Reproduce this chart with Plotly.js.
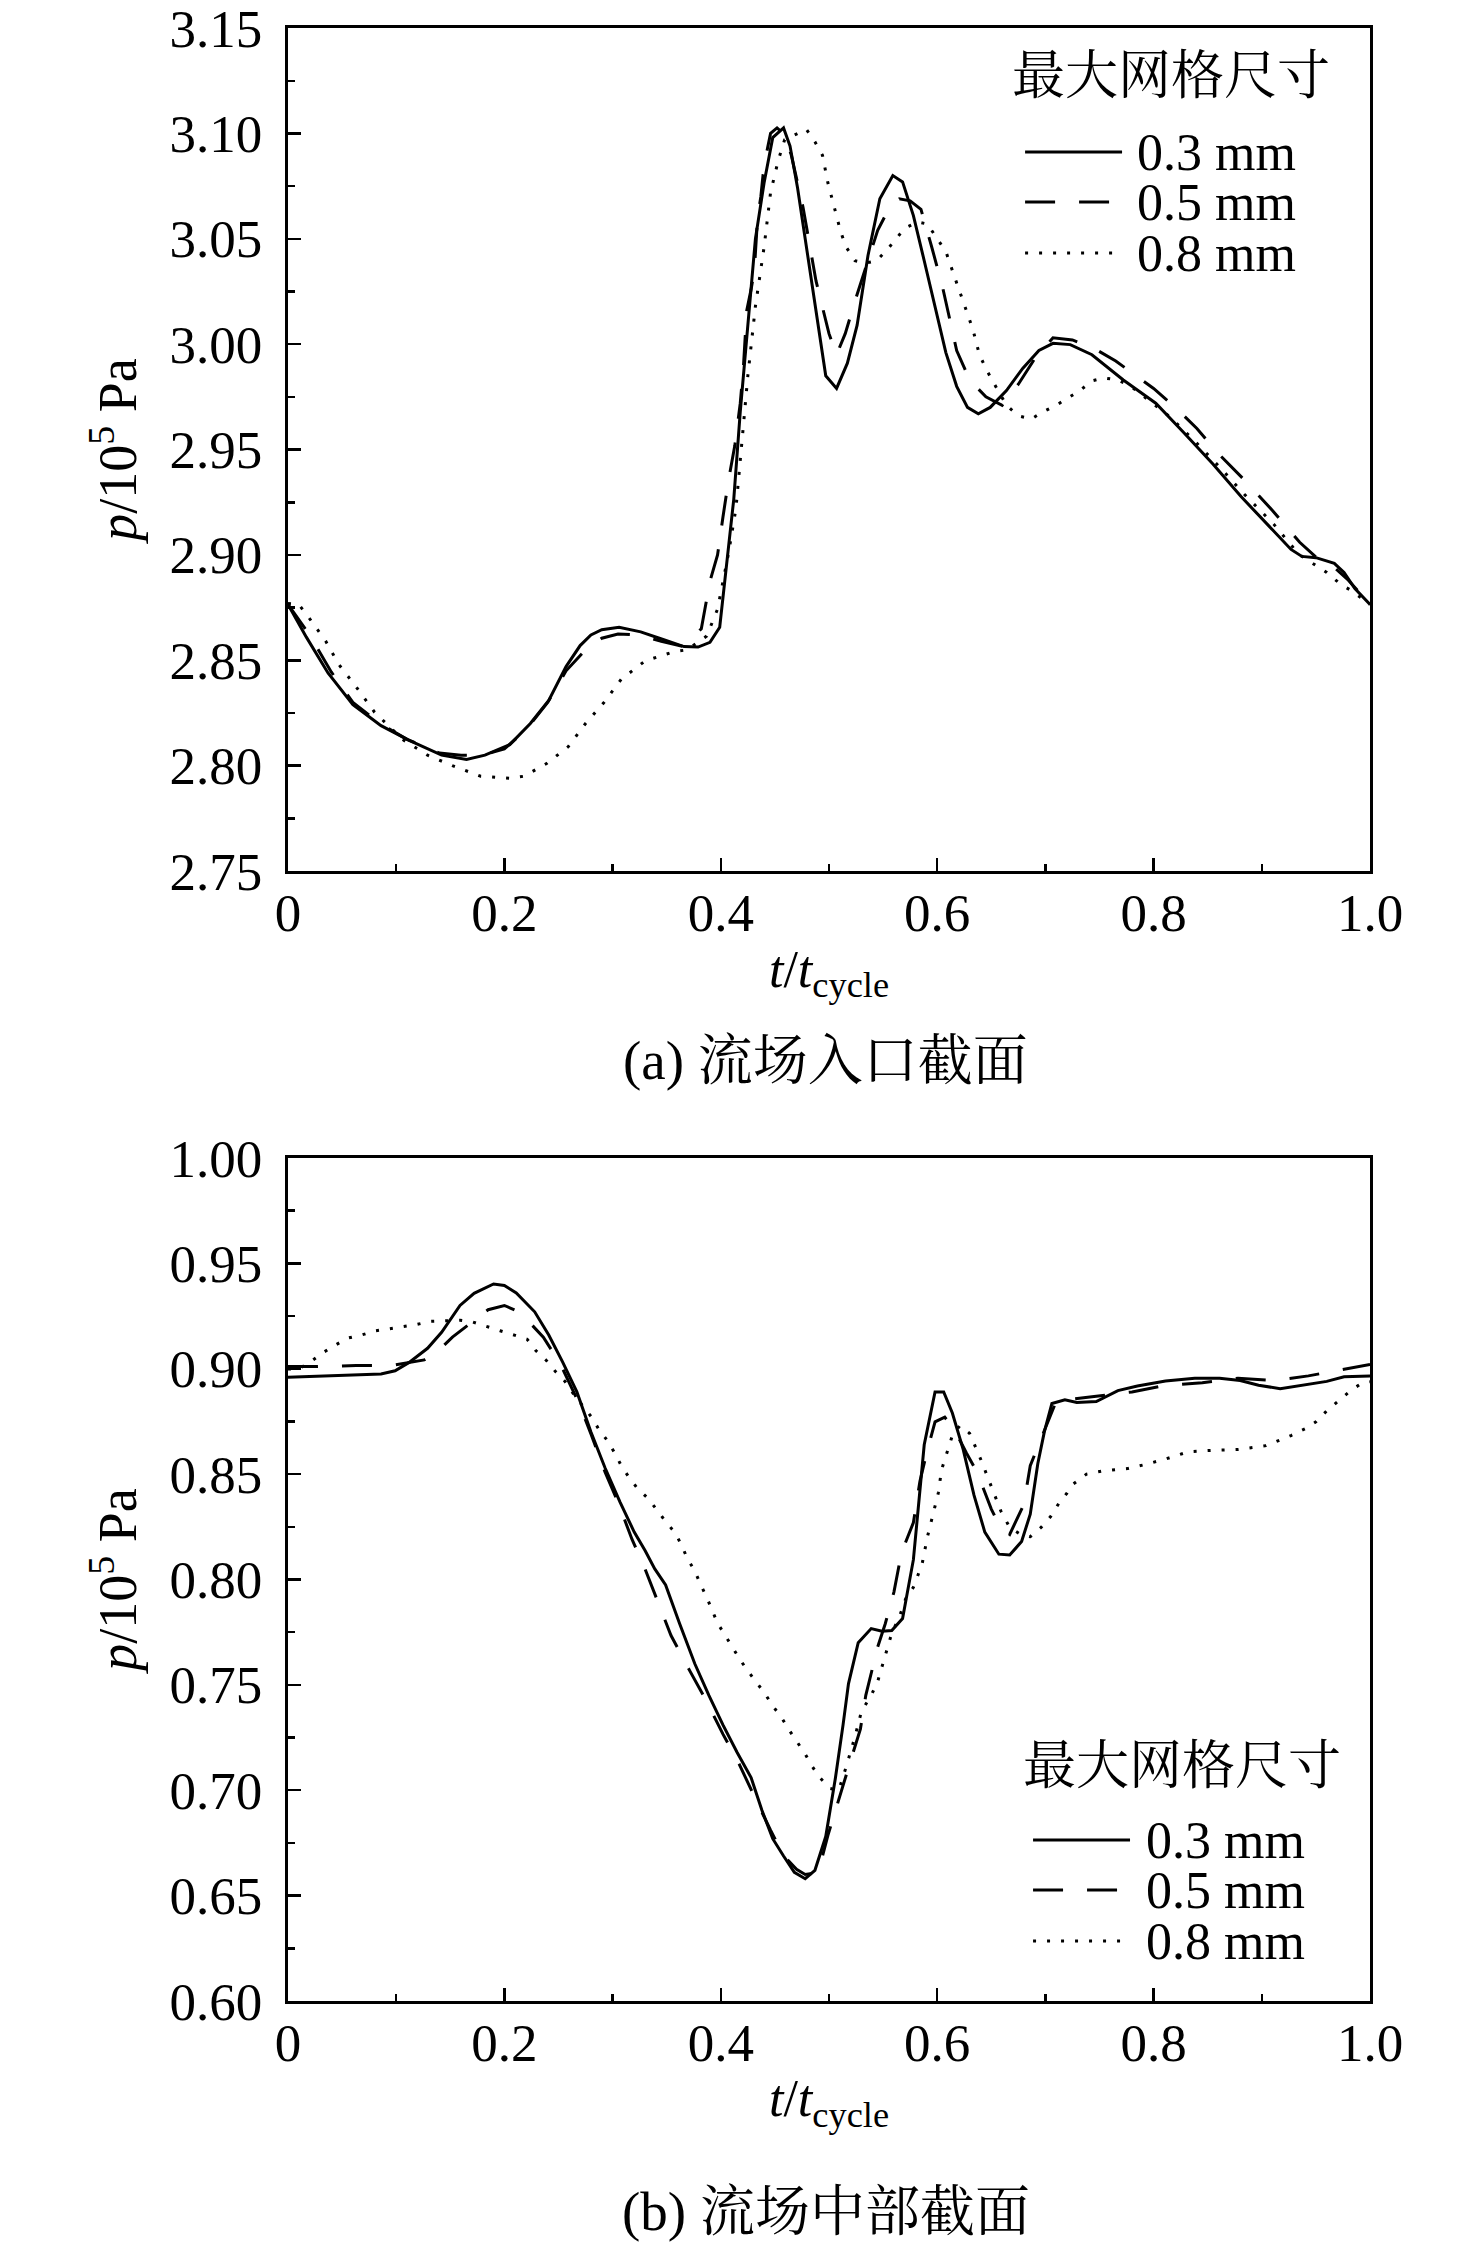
<!DOCTYPE html>
<html>
<head>
<meta charset="utf-8">
<script src="https://cdn.plot.ly/plotly-3.0.1.min.js"></script>
<style>body{margin:0;background:#fff}</style>
</head>
<body>
<div id="chart" style="width:1476px;height:2245px"></div>
<script>
// 网格尺寸
var meshNames = ['0.3 mm', '0.5 mm', '0.8 mm'];

// (a) 流场入口截面
var tA03 = [0, .017, .037, .06, .086, .112, .142, .165, .182, .205, .224, .241, .257, .27, .28, .29, .306, .326, .346, .366, .379, .39, .399, .405, .412, .418, .425, .432, .44, .448, .458, .464, .471, .481, .491, .497, .507, .517, .526, .536, .547, .559, .568, .578, .588, .598, .608, .618, .628, .638, .649, .664, .679, .694, .707, .723, .743, .772, .802, .828, .855, .881, .907, .927, .937, .95, .967, .976, .986, 1.0];
var pA03 = [2.8765, 2.861, 2.844, 2.829, 2.819, 2.812, 2.805, 2.803, 2.805, 2.810, 2.820, 2.831, 2.847, 2.857, 2.862, 2.8645, 2.8657, 2.8635, 2.860, 2.8565, 2.8563, 2.8585, 2.8657, 2.894, 2.9265, 2.968, 3.011, 3.050, 3.0765, 3.098, 3.1026, 3.094, 3.074, 3.0396, 3.007, 2.985, 2.979, 2.991, 3.009, 3.042, 3.069, 3.080, 3.077, 3.061, 3.0396, 3.017, 2.996, 2.980, 2.970, 2.967, 2.970, 2.978, 2.9885, 2.997, 3.0004, 2.9998, 2.995, 2.983, 2.972, 2.958, 2.943, 2.9276, 2.9135, 2.9026, 2.8993, 2.8987, 2.896, 2.8917, 2.884, 2.8765];

var tA05 = [0, .02, .04, .06, .085, .11, .14, .16, .18, .2, .22, .24, .257, .275, .29, .305, .325, .345, .366, .382, .39, .397, .402, .407, .413, .418, .421, .424, .428, .431, .434, .437, .44, .446, .452, .458, .465, .476, .488, .5, .507, .515, .525, .535, .545, .555, .565, .575, .585, .595, .605, .618, .63, .645, .66, .675, .69, .707, .725, .745, .765, .8, .82, .84, .86, .885, .91, .935, .95, .965, .98, 1.0];
var pA05 = [2.8765, 2.862, 2.8445, 2.830, 2.820, 2.8125, 2.806, 2.805, 2.805, 2.808, 2.817, 2.830, 2.845, 2.855, 2.8605, 2.8625, 2.862, 2.859, 2.8565, 2.865, 2.8875, 2.900, 2.918, 2.935, 2.952, 2.972, 2.99, 3.016, 3.026, 3.035, 3.06, 3.07, 3.085, 3.10, 3.1026, 3.10, 3.09, 3.065, 3.030, 3.005, 2.995, 3.005, 3.022, 3.038, 3.054, 3.064, 3.069, 3.068, 3.064, 3.046, 3.027, 2.997, 2.983, 2.975, 2.971, 2.981, 2.993, 3.003, 3.002, 2.998, 2.992, 2.979, 2.970, 2.960, 2.948, 2.935, 2.921, 2.906, 2.899, 2.895, 2.888, 2.8765];

var tA08 = [0, .01, .019, .027, .035, .047, .063, .08, .106, .129, .152, .178, .205, .218, .239, .259, .275, .292, .308, .33, .356, .369, .387, .397, .407, .414, .42, .425, .432, .44, .446, .453, .459, .468, .479, .487, .494, .499, .506, .511, .516, .524, .534, .544, .554, .562, .57, .582, .591, .6, .608, .616, .624, .633, .639, .646, .654, .664, .675, .687, .698, .71, .72, .731, .743, .754, .767, .779, .815, .838, .861, .884, .911, .934, .947, .96, .973, .983, 1.0];
var pA08 = [2.877, 2.8765, 2.8705, 2.865, 2.859, 2.848, 2.8374, 2.8254, 2.8124, 2.805, 2.800, 2.795, 2.794, 2.795, 2.801, 2.809, 2.820, 2.830, 2.841, 2.8497, 2.854, 2.855, 2.8615, 2.8743, 2.9004, 2.922, 2.957, 2.985, 3.018, 3.046, 3.072, 3.087, 3.097, 3.0993, 3.102, 3.096, 3.0896, 3.0765, 3.063, 3.053, 3.046, 3.0396, 3.0385, 3.0396, 3.045, 3.050, 3.055, 3.058, 3.057, 3.050, 3.044, 3.032, 3.02, 3.007, 2.995, 2.9874, 2.980, 2.971, 2.966, 2.9645, 2.968, 2.971, 2.9743, 2.9776, 2.9826, 2.984, 2.983, 2.980, 2.9656, 2.954, 2.9417, 2.9287, 2.9146, 2.9004, 2.896, 2.8917, 2.886, 2.883, 2.8765];

// (b) 流场中部截面
var tB03 = [0, .03, .063, .086, .099, .112, .129, .142, .159, .172, .19, .2, .211, .228, .241, .254, .267, .28, .293, .307, .32, .33, .339, .349, .362, .376, .389, .402, .415, .428, .438, .448, .458, .468, .478, .487, .497, .506, .513, .518, .527, .539, .549, .558, .568, .578, .588, .598, .606, .614, .624, .634, .644, .657, .667, .678, .686, .693, .699, .706, .718, .729, .747, .767, .785, .811, .838, .861, .88, .897, .917, .937, .96, .976, 1.0];
var pB03 = [.896, .8966, .897, .8975, .899, .903, .9097, .9173, .930, .9358, .9402, .9395, .936, .927, .916, .903, .889, .870, .853, .8366, .8225, .8137, .805, .7974, .779, .760, .745, .731, .718, .706, .6905, .677, .6688, .661, .658, .662, .678, .706, .731, .7505, .770, .7767, .7754, .7758, .7815, .8094, .8639, .889, .889, .879, .8617, .840, .8225, .812, .8116, .818, .831, .855, .870, .8835, .8853, .884, .8844, .8896, .8918, .8942, .8955, .8955, .8944, .8922, .8905, .8922, .894, .8962, .8966];

var tB05 = [0, .027, .063, .096, .126, .14, .152, .17, .185, .2, .211, .225, .236, .252, .269, .28, .293, .305, .318, .33, .343, .354, .371, .386, .402, .417, .432, .446, .458, .47, .478, .49, .499, .509, .519, .529, .534, .545, .552, .56, .567, .578, .584, .59, .598, .607, .616, .627, .637, .65, .658, .667, .68, .686, .698, .71, .745, .78, .81, .845, .878, .912, .943, .976, 1.0];
var pB05 = [.901, .901, .9015, .9015, .9042, .909, .915, .922, .928, .930, .9275, .921, .915, .902, .8835, .869, .851, .8366, .819, .805, .7876, .7734, .757, .743, .7266, .7124, .696, .681, .669, .6625, .660, .661, .6786, .696, .7124, .729, .745, .768, .779, .794, .8127, .827, .8465, .8595, .8748, .877, .871, .86, .8508, .8334, .825, .8214, .8355, .854, .869, .8846, .8868, .889, .892, .8933, .8955, .8944, .8966, .8999, .902];

var tB08 = [0, .01, .02, .032, .043, .055, .068, .081, .094, .108, .119, .132, .145, .159, .17, .183, .196, .21, .221, .229, .239, .247, .256, .264, .272, .28, .287, .295, .302, .308, .315, .323, .333, .341, .349, .358, .364, .369, .376, .381, .387, .397, .404, .41, .418, .425, .433, .441, .448, .456, .463, .471, .478, .484, .491, .501, .509, .516, .524, .53, .539, .545, .552, .558, .565, .571, .578, .586, .591, .596, .601, .604, .609, .614, .621, .63, .64, .649, .659, .667, .677, .686, .696, .705, .713, .72, .726, .738, .753, .776, .792, .812, .832, .855, .878, .904, .917, .927, .94, .95, .96, .973, .983, .993, 1.0];
var pB08 = [.8999, .8999, .903, .9075, .911, .9145, .916, .918, .919, .920, .921, .9225, .9227, .923, .9223, .920, .918, .9158, .914, .9086, .9038, .8988, .894, .8879, .8824, .8774, .8715, .866, .860, .854, .8486, .8432, .8384, .8329, .8275, .822, .816, .810, .804, .798, .7915, .7793, .7734, .768, .7618, .7566, .7512, .7457, .740, .7346, .7287, .7228, .7172, .7117, .7063, .7008, .700, .7113, .7254, .7374, .745, .7516, .7636, .7745, .7822, .791, .7963, .8072, .8203, .8312, .841, .852, .8606, .8683, .873, .8693, .8573, .8454, .8323, .8247, .8214, .8203, .8247, .830, .8366, .841, .8454, .850, .8515, .8526, .8545, .8573, .8606, .8613, .8617, .8635, .866, .8683, .8715, .8748, .880, .8857, .890, .8933, .8938];

var xTickVals = [0, 0.2, 0.4, 0.6, 0.8, 1.0];
var xTickText = ['0', '0.2', '0.4', '0.6', '0.8', '1.0'];
var yTickValsA = [2.75, 2.80, 2.85, 2.90, 2.95, 3.00, 3.05, 3.10, 3.15];
var yTickValsB = [0.60, 0.65, 0.70, 0.75, 0.80, 0.85, 0.90, 0.95, 1.00];

var serif = 'Liberation Serif, "Noto Serif CJK SC", "Noto Sans CJK SC", serif';
var dashes = ['solid', '30px,24px', '3px,11px'];

function line(x, y, i, ax) {
  return {x: x, y: y, xaxis: 'x' + ax, yaxis: 'y' + ax, mode: 'lines', name: meshNames[i],
    showlegend: false, line: {color: '#000', width: 3, dash: dashes[i]}};
}

var data = [
  line(tA03, pA03, 0, ''), line(tA05, pA05, 1, ''), line(tA08, pA08, 2, ''),
  line(tB03, pB03, 0, '2'), line(tB05, pB05, 1, '2'), line(tB08, pB08, 2, '2')
];

function xAxis(anchor) {
  return {
    domain: [0.1951, 0.9282], anchor: anchor, range: [0, 1],
    tickmode: 'array', tickvals: xTickVals, ticktext: xTickText,
    ticks: 'inside', ticklen: 13, tickwidth: 2.5, tickcolor: '#000',
    minor: {tickmode: 'linear', tick0: 0, dtick: 0.1, ticks: 'inside', ticklen: 7, tickwidth: 2.5, tickcolor: '#000'},
    showline: true, linewidth: 3, linecolor: '#000', mirror: true,
    showgrid: false, zeroline: false, ticklabelstandoff: -7, ticklabeloverflow: 'allow',
    tickfont: {family: serif, size: 53, color: '#000'},
    title: {text: '<i>t</i>/<i>t</i><sub>cycle</sub>', font: {family: serif, size: 52, color: '#000'}, standoff: 10}
  };
}
function yAxis(anchor, dom, rng, vals) {
  return {
    domain: dom, anchor: anchor, range: rng,
    tickmode: 'array', tickvals: vals, tickformat: '.2f',
    ticks: 'inside', ticklen: 13, tickwidth: 2.5, tickcolor: '#000',
    minor: {tickmode: 'linear', tick0: rng[0], dtick: 0.025, ticks: 'inside', ticklen: 7, tickwidth: 2.5, tickcolor: '#000'},
    showline: true, linewidth: 3, linecolor: '#000', mirror: true,
    showgrid: false, zeroline: false, ticklabelstandoff: 12, ticklabeloverflow: 'allow',
    tickfont: {family: serif, size: 53, color: '#000'},
    title: {text: '<i>p</i>/10<sup>5</sup> Pa', font: {family: serif, size: 54, color: '#000'}, standoff: 16}
  };
}

// 图例（手绘）
var shapes = [], annotations = [];
function legend(titleX, titleY, lineX0, lineX1, textX, rowsY) {
  annotations.push({xref: 'paper', yref: 'paper', x: titleX, y: titleY, text: '最大网格尺寸', showarrow: false,
    xanchor: 'center', yanchor: 'middle', height: 56, font: {family: serif, size: 53, color: '#000'}});
  for (var i = 0; i < meshNames.length; i++) {
    shapes.push({type: 'line', xref: 'paper', yref: 'paper', x0: lineX0, x1: lineX1, y0: rowsY[i], y1: rowsY[i],
      line: {color: '#000', width: 3, dash: dashes[i]}});
    annotations.push({xref: 'paper', yref: 'paper', x: textX, y: rowsY[i], text: meshNames[i], showarrow: false,
      xanchor: 'left', yanchor: 'middle', height: 46, font: {family: serif, size: 52, color: '#000'}});
  }
}
legend(0.7934, 0.9662, 0.6945, 0.7602, 0.769, [0.9323, 0.9100, 0.8873]);
legend(0.8008, 0.2134, 0.6999, 0.7656, 0.7751, [0.1804, 0.1581, 0.1354]);

annotations.push({xref: 'paper', yref: 'paper', x: 0.5596, y: 0.5278, text: '(a) 流场入口截面', showarrow: false,
  xanchor: 'center', yanchor: 'middle', font: {family: serif, size: 55, color: '#000'}});
annotations.push({xref: 'paper', yref: 'paper', x: 0.5596, y: 0.0151, text: '(b) 流场中部截面', showarrow: false,
  xanchor: 'center', yanchor: 'middle', font: {family: serif, size: 55, color: '#000'}});

var layout = {
  width: 1476, height: 2245,
  margin: {l: 0, r: 0, t: 0, b: 0},
  paper_bgcolor: '#fff', plot_bgcolor: '#fff',
  showlegend: false,
  xaxis: xAxis('y'),
  yaxis: yAxis('x', [0.6120, 0.9875], [2.75, 3.15], yTickValsA),
  xaxis2: xAxis('y2'),
  yaxis2: yAxis('x2', [0.1087, 0.4842], [0.60, 1.00], yTickValsB),
  shapes: shapes,
  annotations: annotations
};

Plotly.newPlot('chart', data, layout, {staticPlot: true});
</script>
</body>
</html>
